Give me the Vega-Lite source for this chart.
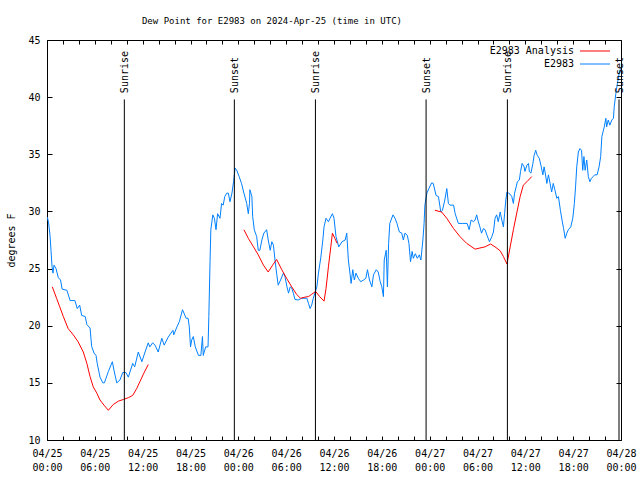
{
  "$schema": "https://vega.github.io/schema/vega-lite/v6.json",
  "width": 574,
  "height": 400,
  "autosize": {"type": "none"},
  "padding": {"left": 47, "top": 40, "right": 19, "bottom": 40},
  "background": "white",
  "title": {
    "text": "Dew Point for E2983 on 2024-Apr-25 (time in UTC)",
    "anchor": "middle",
    "dx": -62,
    "offset": 9,
    "font": "DejaVu Sans Mono",
    "fontSize": 9,
    "fontWeight": "normal",
    "color": "black"
  },
  "config": {
    "view": {"stroke": "black", "strokeWidth": 1},
    "font": "DejaVu Sans Mono",
    "axis": {
      "labelFont": "DejaVu Sans Mono",
      "labelFontSize": 10,
      "labelColor": "black",
      "tickColor": "black",
      "tickWidth": 1,
      "domain": false,
      "grid": false,
      "titleFont": "DejaVu Sans Mono",
      "titleFontSize": 10,
      "titleFontWeight": "normal",
      "titleColor": "black"
    }
  },
  "datasets": {
    "sun": [
      {"event": "Sunrise", "hour": 9.7},
      {"event": "Sunset", "hour": 23.5},
      {"event": "Sunrise", "hour": 33.67},
      {"event": "Sunset", "hour": 47.55},
      {"event": "Sunrise", "hour": 57.75},
      {"event": "Sunset", "hour": 71.75}
    ],
    "obs": [
      {"series": "E2983", "seg": "b", "hour": 0.05, "value": 29.5},
      {"series": "E2983", "seg": "b", "hour": 0.2, "value": 29.0},
      {"series": "E2983", "seg": "b", "hour": 0.38, "value": 27.9},
      {"series": "E2983", "seg": "b", "hour": 0.5, "value": 26.6},
      {"series": "E2983", "seg": "b", "hour": 0.63, "value": 25.2},
      {"series": "E2983", "seg": "b", "hour": 0.75, "value": 24.6},
      {"series": "E2983", "seg": "b", "hour": 0.88, "value": 25.3},
      {"series": "E2983", "seg": "b", "hour": 1.13, "value": 25.0},
      {"series": "E2983", "seg": "b", "hour": 1.42, "value": 24.2},
      {"series": "E2983", "seg": "b", "hour": 1.7, "value": 24.0},
      {"series": "E2983", "seg": "b", "hour": 1.9, "value": 23.2},
      {"series": "E2983", "seg": "b", "hour": 2.5, "value": 23.1},
      {"series": "E2983", "seg": "b", "hour": 2.9, "value": 22.2},
      {"series": "E2983", "seg": "b", "hour": 3.5, "value": 22.2},
      {"series": "E2983", "seg": "b", "hour": 3.8, "value": 21.5},
      {"series": "E2983", "seg": "b", "hour": 4.1, "value": 21.8},
      {"series": "E2983", "seg": "b", "hour": 4.35, "value": 20.9},
      {"series": "E2983", "seg": "b", "hour": 4.8, "value": 20.8},
      {"series": "E2983", "seg": "b", "hour": 5.0, "value": 20.1},
      {"series": "E2983", "seg": "b", "hour": 5.4, "value": 19.8},
      {"series": "E2983", "seg": "b", "hour": 5.6, "value": 18.2},
      {"series": "E2983", "seg": "b", "hour": 5.9, "value": 17.6},
      {"series": "E2983", "seg": "b", "hour": 6.15, "value": 17.4},
      {"series": "E2983", "seg": "b", "hour": 6.3, "value": 16.7},
      {"series": "E2983", "seg": "b", "hour": 6.65, "value": 15.5},
      {"series": "E2983", "seg": "b", "hour": 7.0, "value": 15.0},
      {"series": "E2983", "seg": "b", "hour": 7.2, "value": 15.0},
      {"series": "E2983", "seg": "b", "hour": 7.7, "value": 16.0},
      {"series": "E2983", "seg": "b", "hour": 8.2, "value": 16.85},
      {"series": "E2983", "seg": "b", "hour": 8.4, "value": 16.1},
      {"series": "E2983", "seg": "b", "hour": 8.75, "value": 15.0},
      {"series": "E2983", "seg": "b", "hour": 9.15, "value": 15.25},
      {"series": "E2983", "seg": "b", "hour": 9.5, "value": 15.9},
      {"series": "E2983", "seg": "b", "hour": 9.9, "value": 15.9},
      {"series": "E2983", "seg": "b", "hour": 10.2, "value": 15.5},
      {"series": "E2983", "seg": "b", "hour": 10.75, "value": 16.7},
      {"series": "E2983", "seg": "b", "hour": 11.0, "value": 16.4},
      {"series": "E2983", "seg": "b", "hour": 11.45, "value": 17.7},
      {"series": "E2983", "seg": "b", "hour": 11.9, "value": 16.85},
      {"series": "E2983", "seg": "b", "hour": 12.3, "value": 17.7},
      {"series": "E2983", "seg": "b", "hour": 12.7, "value": 18.5},
      {"series": "E2983", "seg": "b", "hour": 12.9, "value": 18.15},
      {"series": "E2983", "seg": "b", "hour": 13.25, "value": 18.5},
      {"series": "E2983", "seg": "b", "hour": 13.55, "value": 18.3},
      {"series": "E2983", "seg": "b", "hour": 13.95, "value": 17.7},
      {"series": "E2983", "seg": "b", "hour": 14.4, "value": 18.9},
      {"series": "E2983", "seg": "b", "hour": 14.7, "value": 18.3},
      {"series": "E2983", "seg": "b", "hour": 15.2, "value": 19.0},
      {"series": "E2983", "seg": "b", "hour": 15.8, "value": 19.6},
      {"series": "E2983", "seg": "b", "hour": 15.9, "value": 19.2},
      {"series": "E2983", "seg": "b", "hour": 16.3, "value": 19.9},
      {"series": "E2983", "seg": "b", "hour": 16.6, "value": 20.35},
      {"series": "E2983", "seg": "b", "hour": 17.0, "value": 21.4},
      {"series": "E2983", "seg": "b", "hour": 17.45, "value": 20.65},
      {"series": "E2983", "seg": "b", "hour": 17.7, "value": 20.65},
      {"series": "E2983", "seg": "b", "hour": 17.85, "value": 19.9},
      {"series": "E2983", "seg": "b", "hour": 18.0, "value": 18.15},
      {"series": "E2983", "seg": "b", "hour": 18.15, "value": 18.75},
      {"series": "E2983", "seg": "b", "hour": 18.35, "value": 19.05},
      {"series": "E2983", "seg": "b", "hour": 18.6, "value": 18.15},
      {"series": "E2983", "seg": "b", "hour": 19.0, "value": 17.4},
      {"series": "E2983", "seg": "b", "hour": 19.3, "value": 17.4},
      {"series": "E2983", "seg": "b", "hour": 19.5, "value": 19.05},
      {"series": "E2983", "seg": "b", "hour": 19.6, "value": 17.4},
      {"series": "E2983", "seg": "b", "hour": 19.9, "value": 18.15},
      {"series": "E2983", "seg": "b", "hour": 20.2, "value": 18.15},
      {"series": "E2983", "seg": "b", "hour": 20.3, "value": 20.8},
      {"series": "E2983", "seg": "b", "hour": 20.45, "value": 25.6},
      {"series": "E2983", "seg": "b", "hour": 20.55, "value": 28.4},
      {"series": "E2983", "seg": "b", "hour": 20.8, "value": 29.7},
      {"series": "E2983", "seg": "b", "hour": 21.0, "value": 29.4},
      {"series": "E2983", "seg": "b", "hour": 21.2, "value": 28.4},
      {"series": "E2983", "seg": "b", "hour": 21.4, "value": 29.8},
      {"series": "E2983", "seg": "b", "hour": 21.7, "value": 29.4},
      {"series": "E2983", "seg": "b", "hour": 21.9, "value": 30.7},
      {"series": "E2983", "seg": "b", "hour": 22.1, "value": 30.55},
      {"series": "E2983", "seg": "b", "hour": 22.3, "value": 31.3},
      {"series": "E2983", "seg": "b", "hour": 22.55, "value": 31.6},
      {"series": "E2983", "seg": "b", "hour": 22.75, "value": 31.6},
      {"series": "E2983", "seg": "b", "hour": 22.95, "value": 30.85},
      {"series": "E2983", "seg": "b", "hour": 23.2, "value": 31.6},
      {"series": "E2983", "seg": "b", "hour": 23.4, "value": 32.6},
      {"series": "E2983", "seg": "b", "hour": 23.6, "value": 33.8},
      {"series": "E2983", "seg": "b", "hour": 23.8, "value": 33.6},
      {"series": "E2983", "seg": "b", "hour": 24.1, "value": 33.05},
      {"series": "E2983", "seg": "b", "hour": 24.4, "value": 32.45},
      {"series": "E2983", "seg": "b", "hour": 24.7, "value": 31.6},
      {"series": "E2983", "seg": "b", "hour": 25.05, "value": 30.7},
      {"series": "E2983", "seg": "b", "hour": 25.25, "value": 29.8},
      {"series": "E2983", "seg": "b", "hour": 25.4, "value": 30.7},
      {"series": "E2983", "seg": "b", "hour": 25.45, "value": 31.9},
      {"series": "E2983", "seg": "b", "hour": 25.7, "value": 31.3},
      {"series": "E2983", "seg": "b", "hour": 25.8, "value": 29.55},
      {"series": "E2983", "seg": "b", "hour": 26.0, "value": 28.4},
      {"series": "E2983", "seg": "b", "hour": 26.3, "value": 27.8},
      {"series": "E2983", "seg": "b", "hour": 26.5, "value": 26.6},
      {"series": "E2983", "seg": "b", "hour": 26.7, "value": 26.6},
      {"series": "E2983", "seg": "b", "hour": 26.95, "value": 27.5},
      {"series": "E2983", "seg": "b", "hour": 27.2, "value": 28.1},
      {"series": "E2983", "seg": "b", "hour": 27.55, "value": 28.4},
      {"series": "E2983", "seg": "b", "hour": 27.75, "value": 27.5},
      {"series": "E2983", "seg": "b", "hour": 28.0, "value": 26.6},
      {"series": "E2983", "seg": "b", "hour": 28.2, "value": 27.35},
      {"series": "E2983", "seg": "b", "hour": 28.4, "value": 27.05},
      {"series": "E2983", "seg": "b", "hour": 28.6, "value": 25.75},
      {"series": "E2983", "seg": "b", "hour": 28.8, "value": 24.6},
      {"series": "E2983", "seg": "b", "hour": 29.0, "value": 23.55},
      {"series": "E2983", "seg": "b", "hour": 29.3, "value": 24.0},
      {"series": "E2983", "seg": "b", "hour": 29.65, "value": 24.6},
      {"series": "E2983", "seg": "b", "hour": 29.85, "value": 24.3},
      {"series": "E2983", "seg": "b", "hour": 30.1, "value": 23.4},
      {"series": "E2983", "seg": "b", "hour": 30.3, "value": 22.85},
      {"series": "E2983", "seg": "b", "hour": 30.5, "value": 23.4},
      {"series": "E2983", "seg": "b", "hour": 30.7, "value": 23.3},
      {"series": "E2983", "seg": "b", "hour": 30.9, "value": 22.85},
      {"series": "E2983", "seg": "b", "hour": 31.1, "value": 22.3},
      {"series": "E2983", "seg": "b", "hour": 31.5, "value": 22.25},
      {"series": "E2983", "seg": "b", "hour": 31.95, "value": 22.4},
      {"series": "E2983", "seg": "b", "hour": 32.6, "value": 22.4},
      {"series": "E2983", "seg": "b", "hour": 32.8, "value": 21.95},
      {"series": "E2983", "seg": "b", "hour": 33.0, "value": 21.5},
      {"series": "E2983", "seg": "b", "hour": 33.2, "value": 21.8},
      {"series": "E2983", "seg": "b", "hour": 33.4, "value": 22.4},
      {"series": "E2983", "seg": "b", "hour": 33.6, "value": 22.85},
      {"series": "E2983", "seg": "b", "hour": 33.85, "value": 23.4},
      {"series": "E2983", "seg": "b", "hour": 34.05, "value": 24.6},
      {"series": "E2983", "seg": "b", "hour": 34.35, "value": 26.0},
      {"series": "E2983", "seg": "b", "hour": 34.6, "value": 27.5},
      {"series": "E2983", "seg": "b", "hour": 34.75, "value": 28.65},
      {"series": "E2983", "seg": "b", "hour": 35.0, "value": 29.4},
      {"series": "E2983", "seg": "b", "hour": 35.3, "value": 29.1},
      {"series": "E2983", "seg": "b", "hour": 35.5, "value": 29.4},
      {"series": "E2983", "seg": "b", "hour": 35.8, "value": 29.8},
      {"series": "E2983", "seg": "b", "hour": 36.0, "value": 29.4},
      {"series": "E2983", "seg": "b", "hour": 36.25, "value": 27.8},
      {"series": "E2983", "seg": "b", "hour": 36.6, "value": 26.9},
      {"series": "E2983", "seg": "b", "hour": 37.0, "value": 27.35},
      {"series": "E2983", "seg": "b", "hour": 37.4, "value": 27.5},
      {"series": "E2983", "seg": "b", "hour": 37.6, "value": 28.1},
      {"series": "E2983", "seg": "b", "hour": 37.8, "value": 25.75},
      {"series": "E2983", "seg": "b", "hour": 38.0, "value": 24.6},
      {"series": "E2983", "seg": "b", "hour": 38.15, "value": 23.7},
      {"series": "E2983", "seg": "b", "hour": 38.35, "value": 24.9},
      {"series": "E2983", "seg": "b", "hour": 38.55, "value": 24.0},
      {"series": "E2983", "seg": "b", "hour": 38.75, "value": 24.6},
      {"series": "E2983", "seg": "b", "hour": 39.05, "value": 24.15},
      {"series": "E2983", "seg": "b", "hour": 39.35, "value": 23.85},
      {"series": "E2983", "seg": "b", "hour": 39.7, "value": 24.0},
      {"series": "E2983", "seg": "b", "hour": 40.0, "value": 24.15},
      {"series": "E2983", "seg": "b", "hour": 40.2, "value": 24.9},
      {"series": "E2983", "seg": "b", "hour": 40.45, "value": 24.0},
      {"series": "E2983", "seg": "b", "hour": 40.75, "value": 23.4},
      {"series": "E2983", "seg": "b", "hour": 40.95, "value": 24.45},
      {"series": "E2983", "seg": "b", "hour": 41.3, "value": 24.9},
      {"series": "E2983", "seg": "b", "hour": 41.55, "value": 24.7},
      {"series": "E2983", "seg": "b", "hour": 41.8, "value": 23.85},
      {"series": "E2983", "seg": "b", "hour": 42.0, "value": 23.4},
      {"series": "E2983", "seg": "b", "hour": 42.2, "value": 22.55},
      {"series": "E2983", "seg": "b", "hour": 42.3, "value": 25.75},
      {"series": "E2983", "seg": "b", "hour": 42.55, "value": 26.6},
      {"series": "E2983", "seg": "b", "hour": 42.7, "value": 23.4},
      {"series": "E2983", "seg": "b", "hour": 42.85, "value": 27.2},
      {"series": "E2983", "seg": "b", "hour": 43.0, "value": 28.95},
      {"series": "E2983", "seg": "b", "hour": 43.4, "value": 29.7},
      {"series": "E2983", "seg": "b", "hour": 43.65, "value": 29.4},
      {"series": "E2983", "seg": "b", "hour": 43.9, "value": 28.95},
      {"series": "E2983", "seg": "b", "hour": 44.2, "value": 28.2},
      {"series": "E2983", "seg": "b", "hour": 44.5, "value": 28.1},
      {"series": "E2983", "seg": "b", "hour": 44.7, "value": 27.5},
      {"series": "E2983", "seg": "b", "hour": 44.9, "value": 28.1},
      {"series": "E2983", "seg": "b", "hour": 45.2, "value": 27.9},
      {"series": "E2983", "seg": "b", "hour": 45.4, "value": 27.2},
      {"series": "E2983", "seg": "b", "hour": 45.6, "value": 25.6},
      {"series": "E2983", "seg": "b", "hour": 45.8, "value": 26.5},
      {"series": "E2983", "seg": "b", "hour": 45.95, "value": 25.9},
      {"series": "E2983", "seg": "b", "hour": 46.2, "value": 26.3},
      {"series": "E2983", "seg": "b", "hour": 46.45, "value": 25.9},
      {"series": "E2983", "seg": "b", "hour": 46.7, "value": 26.2},
      {"series": "E2983", "seg": "b", "hour": 46.9, "value": 25.75},
      {"series": "E2983", "seg": "b", "hour": 47.15, "value": 27.5},
      {"series": "E2983", "seg": "b", "hour": 47.3, "value": 28.95},
      {"series": "E2983", "seg": "b", "hour": 47.4, "value": 30.55},
      {"series": "E2983", "seg": "b", "hour": 47.65, "value": 31.6},
      {"series": "E2983", "seg": "b", "hour": 47.9, "value": 32.0},
      {"series": "E2983", "seg": "b", "hour": 48.25, "value": 32.5},
      {"series": "E2983", "seg": "b", "hour": 48.45, "value": 32.45},
      {"series": "E2983", "seg": "b", "hour": 48.8, "value": 31.4},
      {"series": "E2983", "seg": "b", "hour": 49.1, "value": 31.3},
      {"series": "E2983", "seg": "b", "hour": 49.4, "value": 29.95},
      {"series": "E2983", "seg": "b", "hour": 49.6, "value": 30.1},
      {"series": "E2983", "seg": "b", "hour": 49.9, "value": 31.0},
      {"series": "E2983", "seg": "b", "hour": 50.15, "value": 32.0},
      {"series": "E2983", "seg": "b", "hour": 50.35, "value": 30.7},
      {"series": "E2983", "seg": "b", "hour": 50.55, "value": 30.55},
      {"series": "E2983", "seg": "b", "hour": 51.0, "value": 30.55},
      {"series": "E2983", "seg": "b", "hour": 51.2, "value": 29.8},
      {"series": "E2983", "seg": "b", "hour": 51.6, "value": 28.95},
      {"series": "E2983", "seg": "b", "hour": 52.15, "value": 28.95},
      {"series": "E2983", "seg": "b", "hour": 52.7, "value": 28.95},
      {"series": "E2983", "seg": "b", "hour": 52.95, "value": 28.4},
      {"series": "E2983", "seg": "b", "hour": 53.2, "value": 29.25},
      {"series": "E2983", "seg": "b", "hour": 53.5, "value": 29.1},
      {"series": "E2983", "seg": "b", "hour": 53.7, "value": 29.25},
      {"series": "E2983", "seg": "b", "hour": 53.9, "value": 29.7},
      {"series": "E2983", "seg": "b", "hour": 54.1, "value": 29.1},
      {"series": "E2983", "seg": "b", "hour": 54.3, "value": 28.65},
      {"series": "E2983", "seg": "b", "hour": 54.5, "value": 28.1},
      {"series": "E2983", "seg": "b", "hour": 54.75, "value": 28.5},
      {"series": "E2983", "seg": "b", "hour": 54.95, "value": 28.4},
      {"series": "E2983", "seg": "b", "hour": 55.2, "value": 27.9},
      {"series": "E2983", "seg": "b", "hour": 55.5, "value": 27.35},
      {"series": "E2983", "seg": "b", "hour": 55.8, "value": 27.8},
      {"series": "E2983", "seg": "b", "hour": 56.0, "value": 28.2},
      {"series": "E2983", "seg": "b", "hour": 56.2, "value": 29.4},
      {"series": "E2983", "seg": "b", "hour": 56.4, "value": 29.7},
      {"series": "E2983", "seg": "b", "hour": 56.6, "value": 29.1},
      {"series": "E2983", "seg": "b", "hour": 56.85, "value": 29.95},
      {"series": "E2983", "seg": "b", "hour": 57.05, "value": 29.25},
      {"series": "E2983", "seg": "b", "hour": 57.25, "value": 28.65},
      {"series": "E2983", "seg": "b", "hour": 57.4, "value": 29.8},
      {"series": "E2983", "seg": "b", "hour": 57.55, "value": 31.0},
      {"series": "E2983", "seg": "b", "hour": 57.7, "value": 31.7},
      {"series": "E2983", "seg": "b", "hour": 57.9, "value": 31.6},
      {"series": "E2983", "seg": "b", "hour": 58.1, "value": 31.5},
      {"series": "E2983", "seg": "b", "hour": 58.3, "value": 31.3},
      {"series": "E2983", "seg": "b", "hour": 58.5, "value": 30.7},
      {"series": "E2983", "seg": "b", "hour": 58.65, "value": 31.6},
      {"series": "E2983", "seg": "b", "hour": 58.85, "value": 32.15},
      {"series": "E2983", "seg": "b", "hour": 59.0, "value": 32.6},
      {"series": "E2983", "seg": "b", "hour": 59.25, "value": 32.75},
      {"series": "E2983", "seg": "b", "hour": 59.4, "value": 33.5},
      {"series": "E2983", "seg": "b", "hour": 59.6, "value": 34.2},
      {"series": "E2983", "seg": "b", "hour": 59.85, "value": 33.9},
      {"series": "E2983", "seg": "b", "hour": 59.95, "value": 33.5},
      {"series": "E2983", "seg": "b", "hour": 60.2, "value": 34.05},
      {"series": "E2983", "seg": "b", "hour": 60.4, "value": 34.2},
      {"series": "E2983", "seg": "b", "hour": 60.5, "value": 33.5},
      {"series": "E2983", "seg": "b", "hour": 60.7, "value": 33.35},
      {"series": "E2983", "seg": "b", "hour": 60.95, "value": 34.2},
      {"series": "E2983", "seg": "b", "hour": 61.1, "value": 34.9},
      {"series": "E2983", "seg": "b", "hour": 61.3, "value": 35.35},
      {"series": "E2983", "seg": "b", "hour": 61.5, "value": 34.9},
      {"series": "E2983", "seg": "b", "hour": 61.75, "value": 34.65},
      {"series": "E2983", "seg": "b", "hour": 62.0, "value": 33.9},
      {"series": "E2983", "seg": "b", "hour": 62.2, "value": 33.2},
      {"series": "E2983", "seg": "b", "hour": 62.35, "value": 33.9},
      {"series": "E2983", "seg": "b", "hour": 62.5, "value": 33.35},
      {"series": "E2983", "seg": "b", "hour": 62.7, "value": 32.45},
      {"series": "E2983", "seg": "b", "hour": 62.9, "value": 33.2},
      {"series": "E2983", "seg": "b", "hour": 63.1, "value": 32.45},
      {"series": "E2983", "seg": "b", "hour": 63.3, "value": 31.7},
      {"series": "E2983", "seg": "b", "hour": 63.5, "value": 32.45},
      {"series": "E2983", "seg": "b", "hour": 63.7, "value": 31.9},
      {"series": "E2983", "seg": "b", "hour": 63.95, "value": 31.15},
      {"series": "E2983", "seg": "b", "hour": 64.15, "value": 31.3},
      {"series": "E2983", "seg": "b", "hour": 64.4, "value": 30.1},
      {"series": "E2983", "seg": "b", "hour": 64.6, "value": 29.25},
      {"series": "E2983", "seg": "b", "hour": 64.8, "value": 28.5},
      {"series": "E2983", "seg": "b", "hour": 65.0, "value": 27.65},
      {"series": "E2983", "seg": "b", "hour": 65.2, "value": 28.1},
      {"series": "E2983", "seg": "b", "hour": 65.4, "value": 28.4},
      {"series": "E2983", "seg": "b", "hour": 65.7, "value": 28.65},
      {"series": "E2983", "seg": "b", "hour": 65.95, "value": 29.4},
      {"series": "E2983", "seg": "b", "hour": 66.15, "value": 30.7},
      {"series": "E2983", "seg": "b", "hour": 66.3, "value": 32.15},
      {"series": "E2983", "seg": "b", "hour": 66.45, "value": 33.9},
      {"series": "E2983", "seg": "b", "hour": 66.65, "value": 35.2},
      {"series": "E2983", "seg": "b", "hour": 66.85, "value": 35.5},
      {"series": "E2983", "seg": "b", "hour": 67.05, "value": 35.35},
      {"series": "E2983", "seg": "b", "hour": 67.2, "value": 33.6},
      {"series": "E2983", "seg": "b", "hour": 67.35, "value": 34.8},
      {"series": "E2983", "seg": "b", "hour": 67.5, "value": 33.6},
      {"series": "E2983", "seg": "b", "hour": 67.7, "value": 34.5},
      {"series": "E2983", "seg": "b", "hour": 67.9, "value": 33.05},
      {"series": "E2983", "seg": "b", "hour": 68.1, "value": 32.6},
      {"series": "E2983", "seg": "b", "hour": 68.3, "value": 32.9},
      {"series": "E2983", "seg": "b", "hour": 68.5, "value": 33.05},
      {"series": "E2983", "seg": "b", "hour": 68.7, "value": 33.2},
      {"series": "E2983", "seg": "b", "hour": 69.0, "value": 33.2},
      {"series": "E2983", "seg": "b", "hour": 69.25, "value": 33.9},
      {"series": "E2983", "seg": "b", "hour": 69.45, "value": 34.8},
      {"series": "E2983", "seg": "b", "hour": 69.6, "value": 36.55},
      {"series": "E2983", "seg": "b", "hour": 69.9, "value": 37.4},
      {"series": "E2983", "seg": "b", "hour": 70.1, "value": 38.15},
      {"series": "E2983", "seg": "b", "hour": 70.2, "value": 37.4},
      {"series": "E2983", "seg": "b", "hour": 70.4, "value": 38.0},
      {"series": "E2983", "seg": "b", "hour": 70.6, "value": 37.55},
      {"series": "E2983", "seg": "b", "hour": 70.85, "value": 38.0},
      {"series": "E2983", "seg": "b", "hour": 71.05, "value": 38.15},
      {"series": "E2983", "seg": "b", "hour": 71.15, "value": 39.15},
      {"series": "E2983", "seg": "b", "hour": 71.35, "value": 40.3},
      {"series": "E2983", "seg": "b", "hour": 71.55, "value": 41.2},
      {"series": "E2983", "seg": "b", "hour": 71.8, "value": 42.2},
      {"series": "E2983", "seg": "b", "hour": 71.95, "value": 42.5},

      {"series": "E2983 Analysis", "seg": "r1", "hour": 0.67, "value": 23.4},
      {"series": "E2983 Analysis", "seg": "r1", "hour": 1.2, "value": 22.4},
      {"series": "E2983 Analysis", "seg": "r1", "hour": 1.6, "value": 21.65},
      {"series": "E2983 Analysis", "seg": "r1", "hour": 2.05, "value": 20.8},
      {"series": "E2983 Analysis", "seg": "r1", "hour": 2.65, "value": 19.75},
      {"series": "E2983 Analysis", "seg": "r1", "hour": 3.3, "value": 19.2},
      {"series": "E2983 Analysis", "seg": "r1", "hour": 3.9, "value": 18.6},
      {"series": "E2983 Analysis", "seg": "r1", "hour": 4.55, "value": 17.7},
      {"series": "E2983 Analysis", "seg": "r1", "hour": 5.0, "value": 16.7},
      {"series": "E2983 Analysis", "seg": "r1", "hour": 5.4, "value": 15.55},
      {"series": "E2983 Analysis", "seg": "r1", "hour": 5.8, "value": 14.65},
      {"series": "E2983 Analysis", "seg": "r1", "hour": 6.25, "value": 14.1},
      {"series": "E2983 Analysis", "seg": "r1", "hour": 6.65, "value": 13.5},
      {"series": "E2983 Analysis", "seg": "r1", "hour": 7.15, "value": 13.05},
      {"series": "E2983 Analysis", "seg": "r1", "hour": 7.7, "value": 12.6},
      {"series": "E2983 Analysis", "seg": "r1", "hour": 8.3, "value": 13.1},
      {"series": "E2983 Analysis", "seg": "r1", "hour": 8.95, "value": 13.4},
      {"series": "E2983 Analysis", "seg": "r1", "hour": 9.6, "value": 13.55},
      {"series": "E2983 Analysis", "seg": "r1", "hour": 10.2, "value": 13.7},
      {"series": "E2983 Analysis", "seg": "r1", "hour": 10.75, "value": 13.9},
      {"series": "E2983 Analysis", "seg": "r1", "hour": 11.25, "value": 14.5},
      {"series": "E2983 Analysis", "seg": "r1", "hour": 11.65, "value": 15.1},
      {"series": "E2983 Analysis", "seg": "r1", "hour": 12.15, "value": 15.85},
      {"series": "E2983 Analysis", "seg": "r1", "hour": 12.7, "value": 16.6},

      {"series": "E2983 Analysis", "seg": "r2", "hour": 24.7, "value": 28.4},
      {"series": "E2983 Analysis", "seg": "r2", "hour": 25.25, "value": 27.65},
      {"series": "E2983 Analysis", "seg": "r2", "hour": 25.9, "value": 26.9},
      {"series": "E2983 Analysis", "seg": "r2", "hour": 26.5, "value": 26.2},
      {"series": "E2983 Analysis", "seg": "r2", "hour": 27.15, "value": 25.3},
      {"series": "E2983 Analysis", "seg": "r2", "hour": 27.75, "value": 24.7},
      {"series": "E2983 Analysis", "seg": "r2", "hour": 28.3, "value": 25.3},
      {"series": "E2983 Analysis", "seg": "r2", "hour": 28.8, "value": 25.8},
      {"series": "E2983 Analysis", "seg": "r2", "hour": 29.45, "value": 24.9},
      {"series": "E2983 Analysis", "seg": "r2", "hour": 30.05, "value": 24.15},
      {"series": "E2983 Analysis", "seg": "r2", "hour": 30.7, "value": 23.4},
      {"series": "E2983 Analysis", "seg": "r2", "hour": 31.3, "value": 22.75},
      {"series": "E2983 Analysis", "seg": "r2", "hour": 31.8, "value": 22.4},
      {"series": "E2983 Analysis", "seg": "r2", "hour": 32.35, "value": 22.5},
      {"series": "E2983 Analysis", "seg": "r2", "hour": 32.8, "value": 22.55},
      {"series": "E2983 Analysis", "seg": "r2", "hour": 33.2, "value": 22.75},
      {"series": "E2983 Analysis", "seg": "r2", "hour": 33.7, "value": 23.0},
      {"series": "E2983 Analysis", "seg": "r2", "hour": 34.2, "value": 22.55},
      {"series": "E2983 Analysis", "seg": "r2", "hour": 34.75, "value": 22.15},
      {"series": "E2983 Analysis", "seg": "r2", "hour": 35.0, "value": 23.25},
      {"series": "E2983 Analysis", "seg": "r2", "hour": 35.3, "value": 25.15},
      {"series": "E2983 Analysis", "seg": "r2", "hour": 35.6, "value": 26.9},
      {"series": "E2983 Analysis", "seg": "r2", "hour": 35.8, "value": 28.1},
      {"series": "E2983 Analysis", "seg": "r2", "hour": 36.1, "value": 27.65},
      {"series": "E2983 Analysis", "seg": "r2", "hour": 36.4, "value": 27.2},

      {"series": "E2983 Analysis", "seg": "r3", "hour": 48.65, "value": 30.1},
      {"series": "E2983 Analysis", "seg": "r3", "hour": 49.5, "value": 29.95},
      {"series": "E2983 Analysis", "seg": "r3", "hour": 50.15, "value": 29.4},
      {"series": "E2983 Analysis", "seg": "r3", "hour": 51.0, "value": 28.5},
      {"series": "E2983 Analysis", "seg": "r3", "hour": 51.8, "value": 27.8},
      {"series": "E2983 Analysis", "seg": "r3", "hour": 52.65, "value": 27.2},
      {"series": "E2983 Analysis", "seg": "r3", "hour": 53.7, "value": 26.7},
      {"series": "E2983 Analysis", "seg": "r3", "hour": 54.3, "value": 26.8},
      {"series": "E2983 Analysis", "seg": "r3", "hour": 54.95, "value": 26.9},
      {"series": "E2983 Analysis", "seg": "r3", "hour": 55.65, "value": 27.15},
      {"series": "E2983 Analysis", "seg": "r3", "hour": 56.2, "value": 26.9},
      {"series": "E2983 Analysis", "seg": "r3", "hour": 56.85, "value": 26.55},
      {"series": "E2983 Analysis", "seg": "r3", "hour": 57.25, "value": 26.05},
      {"series": "E2983 Analysis", "seg": "r3", "hour": 57.7, "value": 25.4},
      {"series": "E2983 Analysis", "seg": "r3", "hour": 58.1, "value": 26.9},
      {"series": "E2983 Analysis", "seg": "r3", "hour": 58.5, "value": 28.4},
      {"series": "E2983 Analysis", "seg": "r3", "hour": 58.95, "value": 29.95},
      {"series": "E2983 Analysis", "seg": "r3", "hour": 59.35, "value": 31.3},
      {"series": "E2983 Analysis", "seg": "r3", "hour": 59.75, "value": 32.3},
      {"series": "E2983 Analysis", "seg": "r3", "hour": 60.2, "value": 32.6},
      {"series": "E2983 Analysis", "seg": "r3", "hour": 60.8, "value": 33.05}
    ]
  },
  "layer": [
    {
      "data": {"name": "obs"},
      "mark": {"type": "line", "strokeWidth": 1, "interpolate": "linear"},
      "encoding": {
        "x": {
          "field": "hour",
          "type": "quantitative",
          "scale": {"domain": [0, 72], "nice": false, "zero": false},
          "axis": {
            "orient": "bottom",
            "title": null,
            "values": [0,2,4,6,8,10,12,14,16,18,20,22,24,26,28,30,32,34,36,38,40,42,44,46,48,50,52,54,56,58,60,62,64,66,68,70,72],
            "labelExpr": "datum.value % 6 == 0 ? ['04/' + (25 + floor(datum.value / 24)), (datum.value % 24 < 10 ? '0' : '') + (datum.value % 24) + ':00'] : ''",
            "tickSize": -4,
            "labelPadding": 12,
            "labelBaseline": "top",
            "labelLineHeight": 14,
            "labelFlush": false,
            "labelOverlap": false,
            "labelBound": false
          }
        },
        "y": {
          "field": "value",
          "type": "quantitative",
          "scale": {"domain": [10, 45], "nice": false, "zero": false},
          "axis": {
            "orient": "left",
            "title": "degrees F",
            "values": [10, 15, 20, 25, 30, 35, 40, 45],
            "tickSize": -5,
            "labelPadding": 12,
            "titlePadding": 11,
            "labelFlush": false,
            "labelOverlap": false
          }
        },
        "color": {
          "field": "series",
          "type": "nominal",
          "scale": {"domain": ["E2983 Analysis", "E2983"], "range": ["#ff0000", "#0080ff"]},
          "legend": {
            "title": null,
            "orient": "none",
            "legendX": 543,
            "legendY": 6,
            "symbolType": "M-5,0H5",
            "symbolSize": 36,
            "symbolStrokeWidth": 1,
            "labelFont": "DejaVu Sans Mono",
            "labelFontSize": 10,
            "labelColor": "black",
            "labelAlign": "right",
            "labelOffset": -26,
            "rowPadding": 3,
            "padding": 0
          }
        },
        "detail": {"field": "seg", "type": "nominal"}
      }
    },
    {
      "data": {"name": "sun"},
      "mark": {"type": "rule", "color": "black", "strokeWidth": 1},
      "encoding": {
        "x": {
          "field": "hour",
          "type": "quantitative",
          "axis": {
            "orient": "top",
            "title": null,
            "labels": false,
            "values": [0,2,4,6,8,10,12,14,16,18,20,22,24,26,28,30,32,34,36,38,40,42,44,46,48,50,52,54,56,58,60,62,64,66,68,70,72],
            "tickSize": -4
          }
        },
        "y": {
          "datum": 39.8,
          "type": "quantitative",
          "axis": {
            "orient": "right",
            "title": null,
            "labels": false,
            "values": [10, 15, 20, 25, 30, 35, 40, 45],
            "tickSize": -5
          }
        },
        "y2": {"datum": 10}
      }
    },
    {
      "data": {"name": "sun"},
      "mark": {"type": "text", "angle": 270, "align": "left", "baseline": "middle", "font": "DejaVu Sans Mono", "fontSize": 10, "color": "black", "dy": 1},
      "encoding": {
        "x": {"field": "hour", "type": "quantitative", "axis": null},
        "y": {"datum": 40.35, "type": "quantitative", "axis": null},
        "text": {"field": "event", "type": "nominal"}
      }
    }
  ],
  "resolve": {"axis": {"x": "independent", "y": "independent"}}
}
